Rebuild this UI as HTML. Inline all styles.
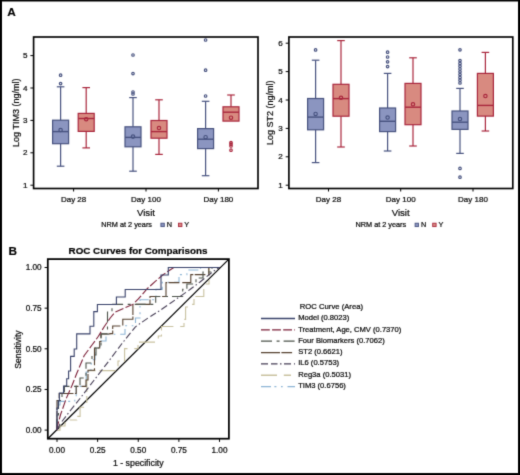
<!DOCTYPE html>
<html><head><meta charset="utf-8"><title>Figure</title>
<style>html,body{margin:0;padding:0;background:#fff;width:520px;height:475px;overflow:hidden}</style>
</head><body>
<svg width="520" height="475" viewBox="0 0 520 475" style="display:block">
<defs><filter id="soft" x="0" y="0" width="1" height="1" color-interpolation-filters="sRGB"><feConvolveMatrix order="3" kernelMatrix="0.02 0.09 0.02 0.09 0.56 0.09 0.02 0.09 0.02" edgeMode="duplicate" preserveAlpha="true"/></filter></defs>
<g filter="url(#soft)">
<rect x="0" y="0" width="520" height="475" fill="#fff"/>
<rect x="0" y="0" width="2" height="475" fill="#000"/>
<rect x="0" y="0" width="520" height="1.5" fill="#000"/>
<rect x="518" y="0" width="2" height="475" fill="#000"/>
<rect x="0" y="473" width="520" height="2" fill="#000"/>
<text x="7.2" y="15.8" font-family='"Liberation Sans", sans-serif' font-weight="bold" font-size="11.8" fill="#000" stroke="#000" stroke-width="0.15">A</text>
<text x="8.6" y="254.6" font-family='"Liberation Sans", sans-serif' font-weight="bold" font-size="11.8" fill="#000" stroke="#000" stroke-width="0.15">B</text>
<rect x="33.6" y="37" width="224.4" height="151.5" fill="none" stroke="#000" stroke-width="1.65"/>
<line x1="30.400000000000002" y1="55.6" x2="33.6" y2="55.6" stroke="#000" stroke-width="1"/>
<text x="27.400000000000002" y="58.1" text-anchor="end" font-family='"Liberation Sans", sans-serif' font-size="8.1" fill="#0a0a0a" stroke="#0a0a0a" stroke-width="0.22">5</text>
<line x1="30.400000000000002" y1="88.0" x2="33.6" y2="88.0" stroke="#000" stroke-width="1"/>
<text x="27.400000000000002" y="90.5" text-anchor="end" font-family='"Liberation Sans", sans-serif' font-size="8.1" fill="#0a0a0a" stroke="#0a0a0a" stroke-width="0.22">4</text>
<line x1="30.400000000000002" y1="120.4" x2="33.6" y2="120.4" stroke="#000" stroke-width="1"/>
<text x="27.400000000000002" y="122.9" text-anchor="end" font-family='"Liberation Sans", sans-serif' font-size="8.1" fill="#0a0a0a" stroke="#0a0a0a" stroke-width="0.22">3</text>
<line x1="30.400000000000002" y1="152.8" x2="33.6" y2="152.8" stroke="#000" stroke-width="1"/>
<text x="27.400000000000002" y="155.3" text-anchor="end" font-family='"Liberation Sans", sans-serif' font-size="8.1" fill="#0a0a0a" stroke="#0a0a0a" stroke-width="0.22">2</text>
<line x1="30.400000000000002" y1="185.2" x2="33.6" y2="185.2" stroke="#000" stroke-width="1"/>
<text x="27.400000000000002" y="187.7" text-anchor="end" font-family='"Liberation Sans", sans-serif' font-size="8.1" fill="#0a0a0a" stroke="#0a0a0a" stroke-width="0.22">1</text>
<line x1="73.6" y1="188.5" x2="73.6" y2="191.5" stroke="#000" stroke-width="1"/>
<text x="73.6" y="201.6" text-anchor="middle" font-family='"Liberation Sans", sans-serif' font-size="8" fill="#0a0a0a" stroke="#0a0a0a" stroke-width="0.22">Day 28</text>
<line x1="146" y1="188.5" x2="146" y2="191.5" stroke="#000" stroke-width="1"/>
<text x="146" y="201.6" text-anchor="middle" font-family='"Liberation Sans", sans-serif' font-size="8" fill="#0a0a0a" stroke="#0a0a0a" stroke-width="0.22">Day 100</text>
<line x1="218.4" y1="188.5" x2="218.4" y2="191.5" stroke="#000" stroke-width="1"/>
<text x="218.4" y="201.6" text-anchor="middle" font-family='"Liberation Sans", sans-serif' font-size="8" fill="#0a0a0a" stroke="#0a0a0a" stroke-width="0.22">Day 180</text>
<text x="18.6" y="112.75" transform="rotate(-90 18.6 112.75)" text-anchor="middle" font-family='"Liberation Sans", sans-serif' font-size="9" fill="#0a0a0a" stroke="#0a0a0a" stroke-width="0.22">Log TIM3 (ng/ml)</text>
<line x1="60.6" y1="86.8" x2="60.6" y2="120.2" stroke="#47527f" stroke-width="1.2"/>
<line x1="56.800000000000004" y1="86.8" x2="64.4" y2="86.8" stroke="#47527f" stroke-width="1.2"/>
<line x1="60.6" y1="143.7" x2="60.6" y2="166.2" stroke="#47527f" stroke-width="1.2"/>
<line x1="56.800000000000004" y1="166.2" x2="64.4" y2="166.2" stroke="#47527f" stroke-width="1.2"/>
<rect x="52.6" y="120.2" width="16" height="23.499999999999986" fill="#8b95c0" stroke="#47527f" stroke-width="1.2"/>
<line x1="52.6" y1="131.6" x2="68.6" y2="131.6" stroke="#47527f" stroke-width="1.4"/>
<circle cx="60.6" cy="130" r="1.7" fill="none" stroke="#47527f" stroke-width="1.15"/>
<circle cx="60.6" cy="75.2" r="1.25" fill="none" stroke="#47527f" stroke-width="1.2"/>
<circle cx="60.6" cy="83.6" r="1.25" fill="none" stroke="#47527f" stroke-width="1.2"/>
<line x1="86.2" y1="87.6" x2="86.2" y2="113.4" stroke="#a9263c" stroke-width="1.2"/>
<line x1="82.4" y1="87.6" x2="90.0" y2="87.6" stroke="#a9263c" stroke-width="1.2"/>
<line x1="86.2" y1="131.4" x2="86.2" y2="147.9" stroke="#a9263c" stroke-width="1.2"/>
<line x1="82.4" y1="147.9" x2="90.0" y2="147.9" stroke="#a9263c" stroke-width="1.2"/>
<rect x="78.2" y="113.4" width="16" height="18.0" fill="#d88a80" stroke="#a9263c" stroke-width="1.2"/>
<line x1="78.2" y1="118.5" x2="94.2" y2="118.5" stroke="#a9263c" stroke-width="1.4"/>
<circle cx="86.2" cy="119.2" r="1.7" fill="none" stroke="#a9263c" stroke-width="1.15"/>
<line x1="133" y1="97.6" x2="133" y2="126.8" stroke="#47527f" stroke-width="1.2"/>
<line x1="129.2" y1="97.6" x2="136.8" y2="97.6" stroke="#47527f" stroke-width="1.2"/>
<line x1="133" y1="146.8" x2="133" y2="171.2" stroke="#47527f" stroke-width="1.2"/>
<line x1="129.2" y1="171.2" x2="136.8" y2="171.2" stroke="#47527f" stroke-width="1.2"/>
<rect x="125" y="126.8" width="16" height="20.000000000000014" fill="#8b95c0" stroke="#47527f" stroke-width="1.2"/>
<line x1="125" y1="137.4" x2="141" y2="137.4" stroke="#47527f" stroke-width="1.4"/>
<circle cx="133" cy="136.6" r="1.7" fill="none" stroke="#47527f" stroke-width="1.15"/>
<circle cx="133" cy="55" r="1.25" fill="none" stroke="#47527f" stroke-width="1.2"/>
<circle cx="133" cy="73.6" r="1.25" fill="none" stroke="#47527f" stroke-width="1.2"/>
<circle cx="133" cy="92" r="1.25" fill="none" stroke="#47527f" stroke-width="1.2"/>
<circle cx="133" cy="94" r="1.25" fill="none" stroke="#47527f" stroke-width="1.2"/>
<line x1="159" y1="99.8" x2="159" y2="120.5" stroke="#a9263c" stroke-width="1.2"/>
<line x1="155.2" y1="99.8" x2="162.8" y2="99.8" stroke="#a9263c" stroke-width="1.2"/>
<line x1="159" y1="138.2" x2="159" y2="154.4" stroke="#a9263c" stroke-width="1.2"/>
<line x1="155.2" y1="154.4" x2="162.8" y2="154.4" stroke="#a9263c" stroke-width="1.2"/>
<rect x="151" y="120.5" width="16" height="17.69999999999999" fill="#d88a80" stroke="#a9263c" stroke-width="1.2"/>
<line x1="151" y1="131.6" x2="167" y2="131.6" stroke="#a9263c" stroke-width="1.4"/>
<circle cx="159" cy="128" r="1.7" fill="none" stroke="#a9263c" stroke-width="1.15"/>
<line x1="205.6" y1="101.3" x2="205.6" y2="128.6" stroke="#47527f" stroke-width="1.2"/>
<line x1="201.79999999999998" y1="101.3" x2="209.4" y2="101.3" stroke="#47527f" stroke-width="1.2"/>
<line x1="205.6" y1="148.6" x2="205.6" y2="175.7" stroke="#47527f" stroke-width="1.2"/>
<line x1="201.79999999999998" y1="175.7" x2="209.4" y2="175.7" stroke="#47527f" stroke-width="1.2"/>
<rect x="197.6" y="128.6" width="16" height="20.0" fill="#8b95c0" stroke="#47527f" stroke-width="1.2"/>
<line x1="197.6" y1="139.2" x2="213.6" y2="139.2" stroke="#47527f" stroke-width="1.4"/>
<circle cx="205.6" cy="137.2" r="1.7" fill="none" stroke="#47527f" stroke-width="1.15"/>
<circle cx="205.6" cy="40" r="1.25" fill="none" stroke="#47527f" stroke-width="1.2"/>
<circle cx="205.6" cy="70.2" r="1.25" fill="none" stroke="#47527f" stroke-width="1.2"/>
<circle cx="205.6" cy="96" r="1.25" fill="none" stroke="#47527f" stroke-width="1.2"/>
<line x1="231" y1="95" x2="231" y2="106.8" stroke="#a9263c" stroke-width="1.2"/>
<line x1="227.2" y1="95" x2="234.8" y2="95" stroke="#a9263c" stroke-width="1.2"/>
<rect x="223" y="106.8" width="16" height="14.299999999999997" fill="#d88a80" stroke="#a9263c" stroke-width="1.2"/>
<line x1="223" y1="112.2" x2="239" y2="112.2" stroke="#a9263c" stroke-width="1.4"/>
<circle cx="231" cy="117.7" r="1.7" fill="none" stroke="#a9263c" stroke-width="1.15"/>
<circle cx="231" cy="142.6" r="1.25" fill="none" stroke="#a9263c" stroke-width="1.2"/>
<circle cx="231" cy="144.2" r="1.25" fill="none" stroke="#a9263c" stroke-width="1.2"/>
<circle cx="231" cy="146" r="1.25" fill="none" stroke="#a9263c" stroke-width="1.2"/>
<circle cx="231" cy="150.2" r="1.25" fill="none" stroke="#a9263c" stroke-width="1.2"/>
<rect x="288.9" y="37" width="223.89999999999998" height="151.5" fill="none" stroke="#000" stroke-width="1.65"/>
<line x1="285.7" y1="43.2" x2="288.9" y2="43.2" stroke="#000" stroke-width="1"/>
<text x="282.7" y="45.7" text-anchor="end" font-family='"Liberation Sans", sans-serif' font-size="8.1" fill="#0a0a0a" stroke="#0a0a0a" stroke-width="0.22">6</text>
<line x1="285.7" y1="71.6" x2="288.9" y2="71.6" stroke="#000" stroke-width="1"/>
<text x="282.7" y="74.1" text-anchor="end" font-family='"Liberation Sans", sans-serif' font-size="8.1" fill="#0a0a0a" stroke="#0a0a0a" stroke-width="0.22">5</text>
<line x1="285.7" y1="100.0" x2="288.9" y2="100.0" stroke="#000" stroke-width="1"/>
<text x="282.7" y="102.5" text-anchor="end" font-family='"Liberation Sans", sans-serif' font-size="8.1" fill="#0a0a0a" stroke="#0a0a0a" stroke-width="0.22">4</text>
<line x1="285.7" y1="128.4" x2="288.9" y2="128.4" stroke="#000" stroke-width="1"/>
<text x="282.7" y="130.9" text-anchor="end" font-family='"Liberation Sans", sans-serif' font-size="8.1" fill="#0a0a0a" stroke="#0a0a0a" stroke-width="0.22">3</text>
<line x1="285.7" y1="156.8" x2="288.9" y2="156.8" stroke="#000" stroke-width="1"/>
<text x="282.7" y="159.3" text-anchor="end" font-family='"Liberation Sans", sans-serif' font-size="8.1" fill="#0a0a0a" stroke="#0a0a0a" stroke-width="0.22">2</text>
<line x1="285.7" y1="185.2" x2="288.9" y2="185.2" stroke="#000" stroke-width="1"/>
<text x="282.7" y="187.7" text-anchor="end" font-family='"Liberation Sans", sans-serif' font-size="8.1" fill="#0a0a0a" stroke="#0a0a0a" stroke-width="0.22">1</text>
<line x1="328.5" y1="188.5" x2="328.5" y2="191.5" stroke="#000" stroke-width="1"/>
<text x="328.5" y="201.6" text-anchor="middle" font-family='"Liberation Sans", sans-serif' font-size="8" fill="#0a0a0a" stroke="#0a0a0a" stroke-width="0.22">Day 28</text>
<line x1="400.7" y1="188.5" x2="400.7" y2="191.5" stroke="#000" stroke-width="1"/>
<text x="400.7" y="201.6" text-anchor="middle" font-family='"Liberation Sans", sans-serif' font-size="8" fill="#0a0a0a" stroke="#0a0a0a" stroke-width="0.22">Day 100</text>
<line x1="473" y1="188.5" x2="473" y2="191.5" stroke="#000" stroke-width="1"/>
<text x="473" y="201.6" text-anchor="middle" font-family='"Liberation Sans", sans-serif' font-size="8" fill="#0a0a0a" stroke="#0a0a0a" stroke-width="0.22">Day 180</text>
<text x="273.4" y="112.75" transform="rotate(-90 273.4 112.75)" text-anchor="middle" font-family='"Liberation Sans", sans-serif' font-size="9" fill="#0a0a0a" stroke="#0a0a0a" stroke-width="0.22">Log ST2 (ng/ml)</text>
<line x1="315.6" y1="60.2" x2="315.6" y2="98.5" stroke="#47527f" stroke-width="1.2"/>
<line x1="311.8" y1="60.2" x2="319.40000000000003" y2="60.2" stroke="#47527f" stroke-width="1.2"/>
<line x1="315.6" y1="129.8" x2="315.6" y2="162.6" stroke="#47527f" stroke-width="1.2"/>
<line x1="311.8" y1="162.6" x2="319.40000000000003" y2="162.6" stroke="#47527f" stroke-width="1.2"/>
<rect x="307.6" y="98.5" width="16" height="31.30000000000001" fill="#8b95c0" stroke="#47527f" stroke-width="1.2"/>
<line x1="307.6" y1="117.1" x2="323.6" y2="117.1" stroke="#47527f" stroke-width="1.4"/>
<circle cx="315.6" cy="113.9" r="1.7" fill="none" stroke="#47527f" stroke-width="1.15"/>
<circle cx="315.6" cy="49.9" r="1.25" fill="none" stroke="#47527f" stroke-width="1.2"/>
<line x1="341" y1="40.6" x2="341" y2="84.3" stroke="#a9263c" stroke-width="1.2"/>
<line x1="337.2" y1="40.6" x2="344.8" y2="40.6" stroke="#a9263c" stroke-width="1.2"/>
<line x1="341" y1="116.2" x2="341" y2="147" stroke="#a9263c" stroke-width="1.2"/>
<line x1="337.2" y1="147" x2="344.8" y2="147" stroke="#a9263c" stroke-width="1.2"/>
<rect x="333" y="84.3" width="16" height="31.900000000000006" fill="#d88a80" stroke="#a9263c" stroke-width="1.2"/>
<line x1="333" y1="98.6" x2="349" y2="98.6" stroke="#a9263c" stroke-width="1.4"/>
<circle cx="341" cy="97.8" r="1.7" fill="none" stroke="#a9263c" stroke-width="1.15"/>
<line x1="387.6" y1="73.4" x2="387.6" y2="108" stroke="#47527f" stroke-width="1.2"/>
<line x1="383.8" y1="73.4" x2="391.40000000000003" y2="73.4" stroke="#47527f" stroke-width="1.2"/>
<line x1="387.6" y1="131.6" x2="387.6" y2="151" stroke="#47527f" stroke-width="1.2"/>
<line x1="383.8" y1="151" x2="391.40000000000003" y2="151" stroke="#47527f" stroke-width="1.2"/>
<rect x="379.6" y="108" width="16" height="23.599999999999994" fill="#8b95c0" stroke="#47527f" stroke-width="1.2"/>
<line x1="379.6" y1="121.3" x2="395.6" y2="121.3" stroke="#47527f" stroke-width="1.4"/>
<circle cx="387.6" cy="117.5" r="1.7" fill="none" stroke="#47527f" stroke-width="1.15"/>
<circle cx="387.6" cy="52.2" r="1.25" fill="none" stroke="#47527f" stroke-width="1.2"/>
<circle cx="387.6" cy="57" r="1.25" fill="none" stroke="#47527f" stroke-width="1.2"/>
<circle cx="387.6" cy="61.8" r="1.25" fill="none" stroke="#47527f" stroke-width="1.2"/>
<circle cx="387.6" cy="66.6" r="1.25" fill="none" stroke="#47527f" stroke-width="1.2"/>
<line x1="413" y1="57.8" x2="413" y2="83.4" stroke="#a9263c" stroke-width="1.2"/>
<line x1="409.2" y1="57.8" x2="416.8" y2="57.8" stroke="#a9263c" stroke-width="1.2"/>
<line x1="413" y1="124.7" x2="413" y2="146" stroke="#a9263c" stroke-width="1.2"/>
<line x1="409.2" y1="146" x2="416.8" y2="146" stroke="#a9263c" stroke-width="1.2"/>
<rect x="405" y="83.4" width="16" height="41.3" fill="#d88a80" stroke="#a9263c" stroke-width="1.2"/>
<line x1="405" y1="107.2" x2="421" y2="107.2" stroke="#a9263c" stroke-width="1.4"/>
<circle cx="413" cy="104.3" r="1.7" fill="none" stroke="#a9263c" stroke-width="1.15"/>
<line x1="460" y1="88.4" x2="460" y2="111" stroke="#47527f" stroke-width="1.2"/>
<line x1="456.2" y1="88.4" x2="463.8" y2="88.4" stroke="#47527f" stroke-width="1.2"/>
<line x1="460" y1="129.4" x2="460" y2="153.4" stroke="#47527f" stroke-width="1.2"/>
<line x1="456.2" y1="153.4" x2="463.8" y2="153.4" stroke="#47527f" stroke-width="1.2"/>
<rect x="452" y="111" width="16" height="18.400000000000006" fill="#8b95c0" stroke="#47527f" stroke-width="1.2"/>
<line x1="452" y1="122.2" x2="468" y2="122.2" stroke="#47527f" stroke-width="1.4"/>
<circle cx="460" cy="119" r="1.7" fill="none" stroke="#47527f" stroke-width="1.15"/>
<circle cx="460" cy="49.8" r="1.25" fill="none" stroke="#47527f" stroke-width="1.2"/>
<circle cx="460" cy="60.6" r="1.25" fill="none" stroke="#47527f" stroke-width="1.2"/>
<circle cx="460" cy="63.4" r="1.25" fill="none" stroke="#47527f" stroke-width="1.2"/>
<circle cx="460" cy="66.2" r="1.25" fill="none" stroke="#47527f" stroke-width="1.2"/>
<circle cx="460" cy="69" r="1.25" fill="none" stroke="#47527f" stroke-width="1.2"/>
<circle cx="460" cy="71.8" r="1.25" fill="none" stroke="#47527f" stroke-width="1.2"/>
<circle cx="460" cy="74.6" r="1.25" fill="none" stroke="#47527f" stroke-width="1.2"/>
<circle cx="460" cy="77.4" r="1.25" fill="none" stroke="#47527f" stroke-width="1.2"/>
<circle cx="460" cy="80.2" r="1.25" fill="none" stroke="#47527f" stroke-width="1.2"/>
<circle cx="460" cy="83" r="1.25" fill="none" stroke="#47527f" stroke-width="1.2"/>
<circle cx="460" cy="168.4" r="1.25" fill="none" stroke="#47527f" stroke-width="1.2"/>
<circle cx="460" cy="177.2" r="1.25" fill="none" stroke="#47527f" stroke-width="1.2"/>
<line x1="485.4" y1="52.4" x2="485.4" y2="73.4" stroke="#a9263c" stroke-width="1.2"/>
<line x1="481.59999999999997" y1="52.4" x2="489.2" y2="52.4" stroke="#a9263c" stroke-width="1.2"/>
<line x1="485.4" y1="116.1" x2="485.4" y2="131" stroke="#a9263c" stroke-width="1.2"/>
<line x1="481.59999999999997" y1="131" x2="489.2" y2="131" stroke="#a9263c" stroke-width="1.2"/>
<rect x="477.4" y="73.4" width="16" height="42.69999999999999" fill="#d88a80" stroke="#a9263c" stroke-width="1.2"/>
<line x1="477.4" y1="105.4" x2="493.4" y2="105.4" stroke="#a9263c" stroke-width="1.4"/>
<circle cx="485.4" cy="96" r="1.7" fill="none" stroke="#a9263c" stroke-width="1.15"/>
<text x="146" y="215.6" text-anchor="middle" font-family='"Liberation Sans", sans-serif' font-size="9.6" fill="#0a0a0a" stroke="#0a0a0a" stroke-width="0.22">Visit</text>
<text x="400.7" y="215.6" text-anchor="middle" font-family='"Liberation Sans", sans-serif' font-size="9.6" fill="#0a0a0a" stroke="#0a0a0a" stroke-width="0.22">Visit</text>
<text x="101.3" y="226.9" font-family='"Liberation Sans", sans-serif' font-size="7.3" fill="#0a0a0a" stroke="#0a0a0a" stroke-width="0.22">NRM at 2 years</text>
<rect x="160.9" y="223.2" width="3.4" height="3.4" fill="#8b95c0" stroke="#47527f" stroke-width="0.9"/>
<text x="166.7" y="226.9" font-family='"Liberation Sans", sans-serif' font-size="7.3" fill="#0a0a0a" stroke="#0a0a0a" stroke-width="0.22">N</text>
<rect x="178.5" y="223.2" width="3.4" height="3.4" fill="#d88a80" stroke="#a9263c" stroke-width="0.9"/>
<text x="184.3" y="226.9" font-family='"Liberation Sans", sans-serif' font-size="7.3" fill="#0a0a0a" stroke="#0a0a0a" stroke-width="0.22">Y</text>
<text x="355.5" y="226.9" font-family='"Liberation Sans", sans-serif' font-size="7.3" fill="#0a0a0a" stroke="#0a0a0a" stroke-width="0.22">NRM at 2 years</text>
<rect x="415.1" y="223.2" width="3.4" height="3.4" fill="#8b95c0" stroke="#47527f" stroke-width="0.9"/>
<text x="420.9" y="226.9" font-family='"Liberation Sans", sans-serif' font-size="7.3" fill="#0a0a0a" stroke="#0a0a0a" stroke-width="0.22">N</text>
<rect x="432.7" y="223.2" width="3.4" height="3.4" fill="#d88a80" stroke="#a9263c" stroke-width="0.9"/>
<text x="438.5" y="226.9" font-family='"Liberation Sans", sans-serif' font-size="7.3" fill="#0a0a0a" stroke="#0a0a0a" stroke-width="0.22">Y</text>
<text x="138" y="254.4" text-anchor="middle" font-family='"Liberation Sans", sans-serif' font-weight="bold" font-size="9.8" fill="#000" stroke="#000" stroke-width="0.18">ROC Curves for Comparisons</text>
<line x1="44.599999999999994" y1="430.10" x2="47.8" y2="430.10" stroke="#000" stroke-width="1"/>
<text x="41.599999999999994" y="433.00" text-anchor="end" font-family='"Liberation Sans", sans-serif' font-size="8.2" fill="#0a0a0a" stroke="#0a0a0a" stroke-width="0.22">0.00</text>
<line x1="57.00" y1="438.7" x2="57.00" y2="441.9" stroke="#000" stroke-width="1"/>
<text x="57.00" y="452.5" text-anchor="middle" font-family='"Liberation Sans", sans-serif' font-size="8.2" fill="#0a0a0a" stroke="#0a0a0a" stroke-width="0.22">0.00</text>
<line x1="44.599999999999994" y1="389.45" x2="47.8" y2="389.45" stroke="#000" stroke-width="1"/>
<text x="41.599999999999994" y="392.35" text-anchor="end" font-family='"Liberation Sans", sans-serif' font-size="8.2" fill="#0a0a0a" stroke="#0a0a0a" stroke-width="0.22">0.25</text>
<line x1="97.62" y1="438.7" x2="97.62" y2="441.9" stroke="#000" stroke-width="1"/>
<text x="97.62" y="452.5" text-anchor="middle" font-family='"Liberation Sans", sans-serif' font-size="8.2" fill="#0a0a0a" stroke="#0a0a0a" stroke-width="0.22">0.25</text>
<line x1="44.599999999999994" y1="348.80" x2="47.8" y2="348.80" stroke="#000" stroke-width="1"/>
<text x="41.599999999999994" y="351.70" text-anchor="end" font-family='"Liberation Sans", sans-serif' font-size="8.2" fill="#0a0a0a" stroke="#0a0a0a" stroke-width="0.22">0.50</text>
<line x1="138.25" y1="438.7" x2="138.25" y2="441.9" stroke="#000" stroke-width="1"/>
<text x="138.25" y="452.5" text-anchor="middle" font-family='"Liberation Sans", sans-serif' font-size="8.2" fill="#0a0a0a" stroke="#0a0a0a" stroke-width="0.22">0.50</text>
<line x1="44.599999999999994" y1="308.15" x2="47.8" y2="308.15" stroke="#000" stroke-width="1"/>
<text x="41.599999999999994" y="311.05" text-anchor="end" font-family='"Liberation Sans", sans-serif' font-size="8.2" fill="#0a0a0a" stroke="#0a0a0a" stroke-width="0.22">0.75</text>
<line x1="178.88" y1="438.7" x2="178.88" y2="441.9" stroke="#000" stroke-width="1"/>
<text x="178.88" y="452.5" text-anchor="middle" font-family='"Liberation Sans", sans-serif' font-size="8.2" fill="#0a0a0a" stroke="#0a0a0a" stroke-width="0.22">0.75</text>
<line x1="44.599999999999994" y1="267.50" x2="47.8" y2="267.50" stroke="#000" stroke-width="1"/>
<text x="41.599999999999994" y="270.40" text-anchor="end" font-family='"Liberation Sans", sans-serif' font-size="8.2" fill="#0a0a0a" stroke="#0a0a0a" stroke-width="0.22">1.00</text>
<line x1="219.50" y1="438.7" x2="219.50" y2="441.9" stroke="#000" stroke-width="1"/>
<text x="219.50" y="452.5" text-anchor="middle" font-family='"Liberation Sans", sans-serif' font-size="8.2" fill="#0a0a0a" stroke="#0a0a0a" stroke-width="0.22">1.00</text>
<text x="138.3" y="466.3" text-anchor="middle" font-family='"Liberation Sans", sans-serif' font-size="8.8" fill="#0a0a0a" stroke="#0a0a0a" stroke-width="0.22">1 - specificity</text>
<text x="20.6" y="349.5" transform="rotate(-90 20.6 349.5)" text-anchor="middle" font-family='"Liberation Sans", sans-serif' font-size="8.5" fill="#0a0a0a" stroke="#0a0a0a" stroke-width="0.22">Sensitivity</text>
<line x1="47.8" y1="438.7" x2="228.9" y2="259.1" stroke="#000" stroke-width="1.2"/>
<path d="M57,430.1 H60 V426 H65 V423 H70 V420 H76.8 V416.4 H80.1 V407.2 H86.8 V370.6 H118 V361 H124.6 V348.6 H138 V342.1 H158.3 V336 H161.5 V326.5 H184 V319.4 H185.6 V307 H190.1 V304.4 H194 V296.5 H203.8 V284 H209 V267.5 H219.5" fill="none" stroke="#c9c2a0" stroke-width="1.1" stroke-dasharray="16,6.8,7.2,4"/>
<path d="M57,430.1 V405 H60 V401.4 H74.8 V397.5 H76.2 V386.4 H86.2 V372 H88 V370 H91.2 V359.7 H95 V348 H100 V341 H106 V334.3 H125 V325.8 H135.5 V318 H140 V299.8 H156 V289.4 H162.2 V282.2 H179 V274.6 H186.9 V270 H200.5 V267.5 H219.5" fill="none" stroke="#8db5d5" stroke-width="1.1" stroke-dasharray="10,3.4,2,4.6,1.7,4.8"/>
<path d="M57,430.1 V400.5 H59.2 V393.5 H76.2 V386.4 H86 V380 H88 V370.2 H94.5 V348 H99.7 V341.5 H101 V334 H110 V333.6 H112.7 V326 H122.8 V319.3 H132.9 V304.4 H150 V296.5 H166 V282.6 H190.8 V274.6 H208.8 V267.5 H219.5" fill="none" stroke="#56412f" stroke-width="1.1" stroke-dasharray="19,1.4,10.7,3"/>
<path d="M57,430.1 V415 H58.5 V400.5 H62 V393.5 H64.4 V386.4 H80 V378 H86 V363 H92 V355 H96 V348 H101 V333.9 H107.5 V312 H112 V304.4 H155.7 V296.5 H182.7 V289.4 H186.9 V284 H196 V278 H203 V272 H212 V267.5 H219.5" fill="none" stroke="#4b5249" stroke-width="1.1" stroke-dasharray="11,4.6,3,4"/>
<path d="M57,430.1 L60,424 L70,411 L80,398.5 L90,385.5 L95,379 L110,359.5 L122,343.5 L135.4,326.8 L148,318 L160.7,310 L170,303.5 L180,296.5 L190,289.5 L200,282 L210,274 L215.5,269.8 L219.5,267.5" fill="none" stroke="#463e55" stroke-width="1.1" stroke-dasharray="7,3,6.5,2.5,1.5,2.5"/>
<path d="M57,430.1 L57.2,426.8 L60.6,414.5 L66.4,398.1 L72.2,385 L76.8,373.3 L84.1,355.8 L92,345 L98.4,336.3 L104,327 L110.2,318 L115,312.3 L123.7,308.3 L132.9,304.4 L138.1,299.2 L147.2,288.7 L155,281.6 L162.8,275 L167,272 L173.8,267.5 L219.5,267.5" fill="none" stroke="#7c2139" stroke-width="1.1" stroke-dasharray="8.8,2.3"/>
<path d="M57,430.1 V408 H58.2 V401 H59.4 V393 H63.6 V386 H66.7 V378.8 H68.6 V371 H70.6 V356.4 H74.2 V349 H76.7 V333.9 H90 V326.3 H93.8 V311.6 H97.4 V304.5 H116.4 V297 H125.2 V289.5 H161 V275 H168.3 V267.5 H219.5" fill="none" stroke="#39426a" stroke-width="1.1"/>
<rect x="47.8" y="259.1" width="181.10000000000002" height="179.59999999999997" fill="none" stroke="#000" stroke-width="1.75"/>
<text x="299.8" y="309.2" font-family='"Liberation Sans", sans-serif' font-size="7.7" fill="#0a0a0a" stroke="#0a0a0a" stroke-width="0.22">ROC Curve (Area)</text>
<line x1="261" y1="318.50" x2="295" y2="318.50" stroke="#39426a" stroke-width="1.3"/>
<text x="298.2" y="320.40" font-family='"Liberation Sans", sans-serif' font-size="7.6" fill="#0a0a0a" stroke="#0a0a0a" stroke-width="0.22">Model (0.8023)</text>
<line x1="261" y1="329.85" x2="295" y2="329.85" stroke="#7c2139" stroke-width="1.3" stroke-dasharray="8.8,2.3"/>
<text x="298.2" y="331.64" font-family='"Liberation Sans", sans-serif' font-size="7.6" fill="#0a0a0a" stroke="#0a0a0a" stroke-width="0.22">Treatment, Age, CMV (0.7370)</text>
<line x1="261" y1="341.20" x2="295" y2="341.20" stroke="#4b5249" stroke-width="1.3" stroke-dasharray="11,4.6,3,4"/>
<text x="298.2" y="342.88" font-family='"Liberation Sans", sans-serif' font-size="7.6" fill="#0a0a0a" stroke="#0a0a0a" stroke-width="0.22">Four Biomarkers (0.7062)</text>
<line x1="261" y1="352.55" x2="295" y2="352.55" stroke="#56412f" stroke-width="1.3" stroke-dasharray="19,1.4,10.7,3"/>
<text x="298.2" y="354.12" font-family='"Liberation Sans", sans-serif' font-size="7.6" fill="#0a0a0a" stroke="#0a0a0a" stroke-width="0.22">ST2 (0.6621)</text>
<line x1="261" y1="363.90" x2="295" y2="363.90" stroke="#463e55" stroke-width="1.3" stroke-dasharray="7,3,6.5,2.5,1.5,2.5"/>
<text x="298.2" y="365.36" font-family='"Liberation Sans", sans-serif' font-size="7.6" fill="#0a0a0a" stroke="#0a0a0a" stroke-width="0.22">IL6 (0.5753)</text>
<line x1="261" y1="375.25" x2="295" y2="375.25" stroke="#c9c2a0" stroke-width="1.3" stroke-dasharray="16,6.8,7.2,4"/>
<text x="298.2" y="376.60" font-family='"Liberation Sans", sans-serif' font-size="7.6" fill="#0a0a0a" stroke="#0a0a0a" stroke-width="0.22">Reg3a (0.5031)</text>
<line x1="261" y1="386.60" x2="295" y2="386.60" stroke="#8db5d5" stroke-width="1.3" stroke-dasharray="10,3.4,2,4.6,1.7,4.8"/>
<text x="298.2" y="387.84" font-family='"Liberation Sans", sans-serif' font-size="7.6" fill="#0a0a0a" stroke="#0a0a0a" stroke-width="0.22">TIM3 (0.6756)</text>
</g>
</svg>
</body></html>
